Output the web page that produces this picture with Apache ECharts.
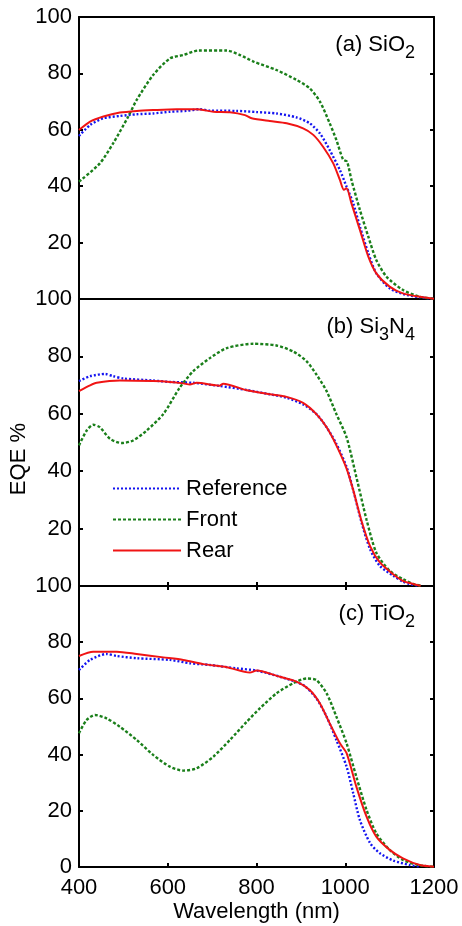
<!DOCTYPE html>
<html>
<head>
<meta charset="utf-8">
<script src="https://cdn.jsdelivr.net/npm/echarts@6/dist/echarts.min.js"></script>
<style>html,body{margin:0;padding:0;background:#fff;}#c{width:462px;height:926px;}</style>
</head>
<body>
<div id="c"></div>
<script>
// ---- Data: [wavelength (nm), EQE %] ----
const xTicks = [400, 600, 800, 1000, 1200];
const yTicks = [0, 20, 40, 60, 80, 100];
const seriesNames = ['Reference', 'Front', 'Rear'];
const panelLabels = [['(a) SiO', '2', ''], ['(b) Si', '3', 'N', '4'], ['(c) TiO', '2', '']];

// Panel (a) SiO2
const a_reference = [[400,57.8],[425,61.7],[455,64.1],[492,64.9],[530,65.5],[567,65.8],[605,66.4],[642,66.7],[672,67.3],[695,66.8],[755,66.7],[800,66.3],[845,65.8],[890,64.4],[920,62.3],[943,58.7],[965,52.8],[988,45.7],[1003,39.8],[1018,33.9],[1033,25.7],[1052,16.2],[1070,9.1],[1100,3.8],[1130,1.8],[1168,0.6],[1200,0.1]];
const a_front = [[400,41.6],[447,48.1],[477,55.2],[511,64.7],[530,70.6],[567,79.4],[605,85.3],[635,86.5],[669,88.1],[733,88.1],[763,86.5],[793,84.2],[845,81.2],[890,77.7],[920,74.7],[943,70.0],[965,62.3],[980,56.4],[995,49.5],[1004,48.7],[1014,42.2],[1033,31.6],[1052,22.1],[1070,13.8],[1093,7.9],[1130,3.2],[1168,0.8],[1200,0.1]];
const a_rear = [[400,59.9],[425,62.9],[455,64.7],[492,66.1],[530,66.7],[567,67.0],[620,67.3],[665,67.3],[703,66.4],[740,66.2],[774,65.2],[789,64.1],[830,63.1],[868,62.3],[905,60.5],[928,58.2],[950,54.0],[973,48.1],[988,42.2],[997,38.7],[1003,39.3],[1014,33.9],[1033,24.5],[1052,15.0],[1070,9.1],[1100,4.4],[1130,2.0],[1175,0.6],[1200,0.1]];

// Panel (b) Si3N4
const b_reference = [[400,71.4],[425,73.1],[459,73.9],[477,73.1],[500,72.3],[567,71.6],[605,71.1],[657,70.8],[717,69.7],[778,68.3],[830,66.8],[868,65.6],[905,63.3],[935,59.9],[958,55.3],[980,49.5],[1003,41.5],[1018,33.4],[1037,22.0],[1056,12.8],[1078,7.0],[1108,3.6],[1130,1.5],[1145,0.7],[1165,0.1]];
const b_front = [[400,49.0],[417,54.1],[432,56.2],[447,55.3],[470,51.3],[496,49.8],[522,50.7],[552,54.1],[590,59.9],[627,69.1],[657,74.8],[695,79.4],[733,82.9],[793,84.4],[845,83.8],[883,81.7],[913,78.3],[935,73.7],[958,67.9],[980,59.9],[1003,51.8],[1025,38.0],[1048,23.1],[1070,11.6],[1100,5.3],[1130,2.4],[1153,0.7],[1170,0.1]];
const b_rear = [[400,67.9],[425,69.9],[440,70.8],[492,71.6],[567,71.4],[605,71.1],[635,70.6],[650,70.2],[665,70.8],[717,69.8],[725,70.5],[778,68.2],[830,66.8],[868,65.9],[905,63.8],[935,59.9],[958,55.3],[980,49.0],[1003,40.9],[1018,33.4],[1037,22.5],[1056,13.9],[1078,8.2],[1108,4.1],[1130,1.8],[1153,0.7],[1170,0.1]];

// Panel (c) TiO2
const c_reference = [[400,70.1],[425,73.7],[462,75.8],[485,75.1],[530,74.3],[605,73.7],[650,72.5],[695,71.9],[755,70.7],[800,69.9],[853,67.7],[905,64.8],[935,60.0],[958,53.5],[980,45.2],[1003,35.7],[1018,26.2],[1033,16.7],[1056,8.5],[1078,4.9],[1108,2.3],[1145,0.7],[1170,0.1]];
const c_front = [[400,47.6],[417,52.3],[436,54.1],[462,52.9],[492,49.9],[530,45.2],[567,39.9],[605,35.7],[635,34.3],[665,35.1],[703,39.3],[740,45.2],[778,51.7],[808,56.5],[845,61.8],[883,65.4],[913,67.1],[935,66.5],[958,61.8],[980,53.5],[1003,44.0],[1025,32.1],[1048,20.3],[1070,12.0],[1100,6.1],[1130,2.5],[1168,0.6],[1200,0.1]];
const c_rear = [[400,75.1],[432,76.6],[485,76.6],[530,75.8],[590,74.6],[635,73.7],[680,72.2],[733,71.1],[785,69.2],[800,69.9],[853,67.7],[890,66.0],[920,63.0],[943,58.2],[965,51.1],[988,44.0],[1003,40.5],[1025,28.6],[1048,17.9],[1070,10.8],[1100,6.1],[1130,3.1],[1168,0.7],[1200,0.1]];

const panelData = [
  [a_reference, a_front, a_rear],
  [b_reference, b_front, b_rear],
  [c_reference, c_front, c_rear]
];

// ---- Layout / style ----
const FONT = '"Liberation Sans", Arial, sans-serif';
const grids = [
  {left: 79, right: 28, top: 17, height: 282},
  {left: 79, right: 28, top: 299, height: 287},
  {left: 79, right: 28, top: 586, height: 281}
];
const colors = ['#1414f0', '#1a7f1a', '#f01414'];
const lineTypes = [[2, 2], [3, 2], 'solid'];
const AX = {color: '#000', width: 2};

const xAxes = [], yAxes = [], series = [];
grids.forEach((g, i) => {
  const last = i === 2;
  xAxes.push({
    type: 'value', gridIndex: i, min: xTicks[0], max: xTicks[xTicks.length - 1], interval: 200,
    position: 'bottom',
    axisLine: {show: true, onZero: false, lineStyle: AX},
    axisTick: {show: i > 0, inside: true, length: 4, lineStyle: AX},
    axisLabel: {show: last, fontFamily: FONT, fontSize: 22, color: '#000', margin: 10,
      formatter: v => String(v)},
    splitLine: {show: false},
    name: last ? 'Wavelength (nm)' : '', nameLocation: 'middle', nameGap: 34,
    nameTextStyle: {fontFamily: FONT, fontSize: 22, color: '#000'}
  });
  xAxes.push({
    type: 'value', gridIndex: i, min: xTicks[0], max: xTicks[xTicks.length - 1], interval: 200,
    position: 'top',
    axisLine: {show: true, onZero: false, lineStyle: AX},
    axisTick: {show: last, inside: true, length: 4, lineStyle: AX},
    axisLabel: {show: false}, splitLine: {show: false}
  });
  yAxes.push({
    type: 'value', gridIndex: i, min: yTicks[0], max: yTicks[yTicks.length - 1], interval: 20,
    position: 'left',
    axisLine: {show: true, onZero: false, lineStyle: AX},
    axisTick: {show: true, inside: true, length: 4, lineStyle: AX},
    axisLabel: {fontFamily: FONT, fontSize: 22, color: '#000', margin: 7, showMinLabel: last},
    splitLine: {show: false}
  });
  yAxes.push({
    type: 'value', gridIndex: i, min: yTicks[0], max: yTicks[yTicks.length - 1], interval: 20,
    position: 'right',
    axisLine: {show: true, onZero: false, lineStyle: AX},
    axisTick: {show: true, inside: true, length: 4, lineStyle: AX},
    axisLabel: {show: false}, splitLine: {show: false}
  });
  panelData[i].forEach((d, k) => {
    series.push({
      name: seriesNames[k], type: 'line', xAxisIndex: i * 2, yAxisIndex: i * 2,
      data: d, symbol: 'none', smooth: 0.25, animation: false,
      lineStyle: {color: colors[k], width: k === 2 ? 2 : 2.4, type: lineTypes[k]},
      itemStyle: {color: colors[k]}, z: 2 + k
    });
  });
});

// Panel labels with subscripts
const graphics = [];
const labelY = [42, 324, 611];
panelLabels.forEach((parts, i) => {
  let rich = '';
  if (parts.length === 3) rich = '{m|' + parts[0] + '}{s|' + parts[1] + '}';
  else rich = '{m|' + parts[0] + '}{s|' + parts[1] + '}{m|' + parts[2] + '}{s|' + parts[3] + '}';
  graphics.push({
    type: 'text', right: 47, top: labelY[i] - 14, z: 10,
    style: {
      text: rich, fill: '#000', font: '22px ' + FONT,
      rich: {
        m: {fontFamily: FONT, fontSize: 22, fill: '#000', lineHeight: 28},
        s: {fontFamily: FONT, fontSize: 18, fill: '#000', lineHeight: 28, padding: [16, 0, 0, 0]}
      }
    }
  });
});
graphics.push({
  type: 'text', left: 8, top: 423, rotation: Math.PI / 2, z: 10,
  style: {text: 'EQE %', font: '22px ' + FONT, fill: '#000'}
});

const chart = echarts.init(document.getElementById('c'), null, {renderer: 'canvas'});
chart.setOption({
  animation: false,
  backgroundColor: '#fff',
  grid: grids,
  xAxis: xAxes,
  yAxis: yAxes,
  series: series,
  legend: {
    data: seriesNames, orient: 'vertical', left: 107, top: 472,
    itemWidth: 68, itemHeight: 14, itemGap: 8,
    itemStyle: {opacity: 0},
    textStyle: {fontFamily: FONT, fontSize: 22, color: '#000', lineHeight: 23},
    selectedMode: false
  },
  graphic: graphics
});
</script>
</body>
</html>
